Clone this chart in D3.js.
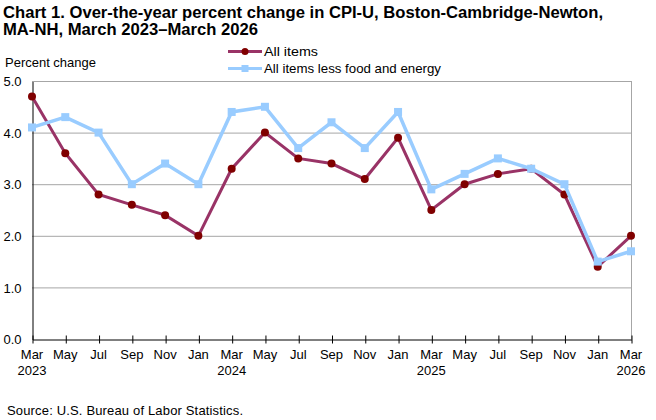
<!DOCTYPE html>
<html>
<head>
<meta charset="utf-8">
<script src="https://cdn.jsdelivr.net/npm/d3@7"></script>
<style>
  body { margin: 0; background: #fff; }
  svg { display: block; font-family: "Liberation Sans", Arial, sans-serif; }
</style>
</head>
<body>
<div id="vis-holder"></div>
<script>
// Chart data
const months = ["Mar","May","Jul","Sep","Nov","Jan","Mar","May","Jul","Sep","Nov","Jan","Mar","May","Jul","Sep","Nov","Jan","Mar"];
const years = ["2023","","","","","","2024","","","","","","2025","","","","","","2026"];
const allItems = [4.7, 3.6, 2.8, 2.6, 2.4, 2.0, 3.3, 4.0, 3.5, 3.4, 3.1, 3.9, 2.5, 3.0, 3.2, 3.3, 2.8, 1.4, 2.0];
const coreItems = [4.1, 4.3, 4.0, 3.0, 3.4, 3.0, 4.4, 4.5, 3.7, 4.2, 3.7, 4.4, 2.9, 3.2, 3.5, 3.3, 3.0, 1.5, 1.7];
const yTicks = [0, 1, 2, 3, 4, 5];

const width = 656;
const height = 420;
const margin = { top: 81, right: 25, bottom: 81, left: 32 };

const svg = d3.select("#vis-holder")
    .append("svg")
    .attr("width", width)
    .attr("height", height);

// Scales
const x = d3.scaleLinear()
    .domain([0, months.length - 1])
    .range([margin.left, width - margin.right]);

const y = d3.scaleLinear()
    .domain([0, 5])
    .range([height - margin.bottom, margin.top]);

// Title
const title = svg.append("g")
    .attr("font-weight", "bold")
    .attr("font-size", "16px")
    .attr("fill", "#000");
title.append("text")
    .attr("x", 3).attr("y", 17.5)
    .attr("textLength", 600).attr("lengthAdjust", "spacingAndGlyphs")
    .text("Chart 1. Over-the-year percent change in CPI-U, Boston-Cambridge-Newton,");
title.append("text")
    .attr("x", 3).attr("y", 35)
    .attr("textLength", 255).attr("lengthAdjust", "spacingAndGlyphs")
    .text("MA-NH, March 2023\u2013March 2026");

// Gridlines
svg.append("g")
    .selectAll("line")
    .data(yTicks.filter(d => d > 0))
    .enter()
    .append("line")
    .attr("x1", x(0))
    .attr("x2", x(months.length - 1))
    .attr("y1", d => y(d) + 0.5)
    .attr("y2", d => y(d) + 0.5)
    .attr("stroke", "#a6a6a6")
    .attr("stroke-width", 1);

// Right border
svg.append("line")
    .attr("x1", x(months.length - 1) + 0.5)
    .attr("x2", x(months.length - 1) + 0.5)
    .attr("y1", y(5))
    .attr("y2", y(0))
    .attr("stroke", "#a6a6a6");

// Y axis
const yAxis = svg.append("g")
    .attr("transform", `translate(${margin.left + 0.5}, 0.5)`)
    .call(d3.axisLeft(y).tickValues(yTicks).tickFormat(d3.format(".1f")).tickSize(0).tickPadding(11))
    .attr("font-size", "13px")
    .attr("font-family", "Liberation Sans, Arial, sans-serif");
yAxis.select(".domain").attr("stroke", "#000");
yAxis.selectAll("text").attr("fill", "#000").attr("dy", "0.32em");

// X axis
const xAxis = svg.append("g")
    .attr("transform", `translate(0.5, ${y(0) + 0.5})`)
    .call(d3.axisBottom(x).tickValues(d3.range(months.length)).tickFormat("").tickSizeInner(3).tickSizeOuter(0))
    .attr("font-family", "Liberation Sans, Arial, sans-serif");
xAxis.select(".domain").attr("stroke", "#000");
xAxis.selectAll(".tick line").attr("y1", -4).attr("y2", 4).attr("stroke", "#000");

const xLabels = svg.append("g")
    .attr("font-size", "13px")
    .attr("fill", "#000")
    .attr("text-anchor", "middle");
xLabels.selectAll(".month")
    .data(months)
    .enter()
    .append("text")
    .attr("class", "month")
    .attr("x", (d, i) => x(i))
    .attr("y", 359)
    .text(d => d);
xLabels.selectAll(".year")
    .data(years)
    .enter()
    .append("text")
    .attr("class", "year")
    .attr("x", (d, i) => x(i))
    .attr("y", 375)
    .text(d => d);

// Y axis label
svg.append("text")
    .attr("x", 5)
    .attr("y", 67)
    .attr("font-size", "13px")
    .attr("fill", "#000")
    .attr("textLength", 91).attr("lengthAdjust", "spacingAndGlyphs")
    .text("Percent change");

// Lines
const line = d3.line()
    .x((d, i) => x(i))
    .y(d => y(d));

svg.append("path")
    .datum(allItems)
    .attr("fill", "none")
    .attr("stroke", "#993366")
    .attr("stroke-width", 3)
    .attr("d", line);

svg.selectAll(".dot")
    .data(allItems)
    .enter()
    .append("circle")
    .attr("class", "dot")
    .attr("cx", (d, i) => x(i))
    .attr("cy", d => y(d))
    .attr("r", 4)
    .attr("fill", "#800000");

svg.append("path")
    .datum(coreItems)
    .attr("fill", "none")
    .attr("stroke", "#99ccff")
    .attr("stroke-width", 3.5)
    .attr("d", line);

svg.selectAll(".sq")
    .data(coreItems)
    .enter()
    .append("rect")
    .attr("class", "sq")
    .attr("x", (d, i) => x(i) - 4)
    .attr("y", d => y(d) - 4)
    .attr("width", 8)
    .attr("height", 8)
    .attr("fill", "#99ccff");

// Legend
const legend = svg.append("g").attr("font-size", "13px").attr("fill", "#000");
const legendItems = [
  { name: "All items", color: "#993366", mark: "#800000", shape: "circle", yy: 51.5, len: 54 },
  { name: "All items less food and energy", color: "#99ccff", mark: "#99ccff", shape: "square", yy: 68.5, len: 177 }
];
legendItems.forEach(item => {
  legend.append("line")
      .attr("x1", 228).attr("x2", 262)
      .attr("y1", item.yy).attr("y2", item.yy)
      .attr("stroke", item.color)
      .attr("stroke-width", 3);
  if (item.shape === "circle") {
    legend.append("circle").attr("cx", 245).attr("cy", item.yy).attr("r", 3.5).attr("fill", item.mark);
  } else {
    legend.append("rect").attr("x", 241.5).attr("y", item.yy - 3.5).attr("width", 7).attr("height", 7).attr("fill", item.mark);
  }
  legend.append("text")
      .attr("x", 264)
      .attr("y", item.yy + 4.5)
      .attr("textLength", item.len).attr("lengthAdjust", "spacingAndGlyphs")
      .text(item.name);
});

// Source
svg.append("text")
    .attr("x", 7)
    .attr("y", 415)
    .attr("font-size", "13px")
    .attr("fill", "#000")
    .attr("textLength", 236).attr("lengthAdjust", "spacing")
    .text("Source: U.S. Bureau of Labor Statistics.");
</script>
</body>
</html>
